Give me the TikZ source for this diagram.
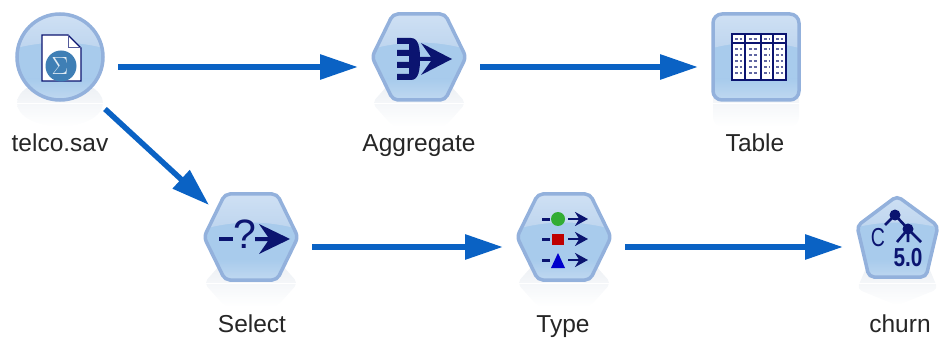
\documentclass[tikz,border=0pt]{standalone}
\usepackage{fontspec}
\setmainfont{Liberation Sans}
\usetikzlibrary{arrows.meta}
\definecolor{flowblue}{HTML}{0A62C4}
\definecolor{edgeblue}{HTML}{93B1DC}
\definecolor{glosstop}{HTML}{D0E1F4}
\definecolor{glossmid}{HTML}{BCD4EE}
\definecolor{bodylow}{HTML}{A8CBEC}
\definecolor{bodyend}{HTML}{C3DAF1}
\definecolor{inkblue}{HTML}{0B1470}
\definecolor{mirrorgray}{HTML}{EAEEF3}
\definecolor{ballblue}{HTML}{3F7FB5}
\tikzset{
  station/.style={minimum width=#1,minimum height=88pt,outer sep=13pt,inner sep=0pt},
  caption/.style={anchor=base,inner sep=0pt,font=\fontsize{24.5}{28}\selectfont,text=black!85},
  flow/.style={line width=6pt,draw=flowblue,-{Triangle[length=38pt,width=24pt]}},
  glyph/.style={inner sep=0pt,text=inkblue,font=\fontsize{#1}{#1}\selectfont}
}
% shapes around the middle of a station
\def\hexpath{(-26,-43) -- (26,-43) -- (47,0) -- (26,43) -- (-26,43) -- (-47,0) -- cycle}
\def\roundpath{(0,0) circle (43)}
\def\squarepath{(-43,-43) rectangle (43,43)}
\def\pentapath{(0,-41) -- (41,-11) -- (29,40) -- (-28,40) -- (-40,-11) -- cycle}
\newcommand{\stationbody}[3]{%
  \begin{scope}[shift={(#1.center)}]
    \shade[rounded corners=#3,top color=mirrorgray,bottom color=white,yshift=-46pt,yscale=-.55] #2;
    \fill[white] (-60,46) rectangle (60,47);
    \begin{scope}
      \clip[rounded corners=#3] #2;
      \fill[bodylow] (-60,-60) rectangle (60,60);
      \shade[top color=bodylow,bottom color=bodyend] (-60,22) rectangle (60,46);
      \shade[top color=glosstop,bottom color=glossmid] (-60,-46) -- (-60,-4) .. controls (-20,-18) and (20,-18) .. (60,-4) -- (60,-46) -- cycle;
    \end{scope}
    \draw[rounded corners=#3,draw=edgeblue,line width=3.5pt] #2;
  \end{scope}}
\begin{document}
\begin{tikzpicture}[x=1pt,y=-1pt]
  \useasboundingbox (0,0) rectangle (939,339);
  \node[station=90pt] (telco) at (60,57) {};
  \node[station=96pt] (aggregate) at (419,57) {};
  \node[station=90pt] (tablenode) at (756,57) {};
  \node[station=96pt] (selectnode) at (251,237) {};
  \node[station=96pt] (typenode) at (564,237) {};
  \node[station=82pt] (churn) at (897,237) {};

  \stationbody{telco}{\roundpath}{0pt}
  \stationbody{aggregate}{\hexpath}{5pt}
  \stationbody{tablenode}{\squarepath}{9pt}
  \stationbody{selectnode}{\hexpath}{5pt}
  \stationbody{typenode}{\hexpath}{5pt}
  \stationbody{churn}{\pentapath}{5pt}

  \node[caption] (telcolabel) at (60,152) {telco.sav};
  \node[caption] (aggregatelabel) at (419,152) {Aggregate};
  \node[caption] (tablelabel) at (755,152) {Table};
  \node[caption] (selectlabel) at (252,332) {Select};
  \node[caption] (typelabel) at (563,332) {Type};
  \node[caption] (churnlabel) at (900,332) {churn};

  % file with the sigma ball
  \begin{scope}[shift={(telco.center)}]
    \filldraw[fill=white,draw=inkblue,line width=1.2pt] (-18,-22) -- (8,-22) -- (21,-9) -- (21,24) -- (-18,24) -- cycle;
    \draw[inkblue!70,line width=1pt] (8,-22) -- (8,-9) -- (21,-9);
    \fill[ballblue] (1,9) circle (15.5);
    \node[inner sep=0pt,text=white!85!ballblue,font=\fontsize{24}{24}\selectfont] (sigma) at (0,9) {$\Sigma$};
  \end{scope}

  % aggregate glyph
  \begin{scope}[shift={(aggregate.center)}]
    \fill[inkblue] (-22,-19) -- (-8,-19) .. controls (0,-19) and (1,-8) .. (1,2)
      .. controls (1,12) and (0,23) .. (-8,23) -- (-22,23) -- (-22,17) -- (-10,17) -- (-10,11) -- (-22,11) -- (-22,5)
      -- (-10,5) -- (-10,-1) -- (-22,-1) -- (-22,-7) -- (-10,-7) -- (-10,-13) -- (-22,-13) -- cycle;
    \fill[inkblue] (-1,0) -- (12,0) -- (2,-14) -- (33,2) -- (2,18) -- (12,4) -- (-1,4) -- cycle;
  \end{scope}

  % table glyph
  \begin{scope}[shift={(tablenode.center)}]
    \filldraw[fill=white,draw=inkblue,line width=1.4pt] (-24,-23) rectangle (30,23);
    \draw[inkblue,line width=1.4pt] (-24,-14) -- (30,-14) (-11,-23) -- (-11,23) (5,-23) -- (5,23) (17,-23) -- (17,23);
    \foreach \rowy in {-18,-8,-2,4,10,16}
      \draw[inkblue!65,line width=2pt,dash pattern=on 3pt off 1.5pt]
        (-21,\rowy) -- (-14,\rowy) (-7,\rowy) -- (2,\rowy) (8,\rowy) -- (14,\rowy) (20,\rowy) -- (27,\rowy);
  \end{scope}

  % select glyph
  \begin{scope}[shift={(selectnode.center)}]
    \fill[inkblue] (-32,0) rectangle (-18,4);
    \node[glyph=41] (question) at (-6,-3) {?};
    \fill[inkblue] (4,0) -- (17,0) -- (8,-13) -- (39,2) -- (8,17) -- (17,4) -- (4,4) -- cycle;
  \end{scope}

  % type glyph
  \begin{scope}[shift={(typenode.center)}]
    \foreach \rowy in {-18,2,23} {
      \fill[inkblue] (-22,\rowy-1.5) rectangle (-14,\rowy+1.5);
      \draw[inkblue,line width=2.5pt,-{Stealth[length=13pt,width=14pt]}] (4,\rowy) -- (24,\rowy);
    }
    \fill[green!60!black!80] (-6,-18) circle (7);
    \fill[red!75!black] (-12,-3) rectangle (0,8);
    \fill[blue!80!black] (-13,31) -- (-6,16) -- (1,31) -- cycle;
  \end{scope}

  % decision tree glyph
  \begin{scope}[shift={(churn.center)}]
    \draw[inkblue,line width=2.6pt] (-12,-12) -- (-2,-22) -- (11,-8) (0,5) -- (11,-8) -- (24,5) (11,-8) -- (11,5);
    \fill[inkblue] (-2,-22) circle (5.5) (11,-8) circle (5.5);
    \node[glyph=26] (clabel) at (-19,1) {\scalebox{.75}[1]{C}};
    \node[glyph=26] (versionlabel) at (11,21) {\scalebox{.8}[1]{\bfseries 5.0}};
  \end{scope}

  \foreach \from/\to in {telco/aggregate,aggregate/tablenode,selectnode/typenode,typenode/churn}
    \draw[flow] ([yshift=-10pt]\from.east) -- ([yshift=-10pt]\to.west);
  \draw[flow,line width=5.5pt] ([xshift=-13pt,yshift=5pt]telco.south east) -- ([xshift=19pt,yshift=-25pt]selectnode.north west);
\end{tikzpicture}
\end{document}
